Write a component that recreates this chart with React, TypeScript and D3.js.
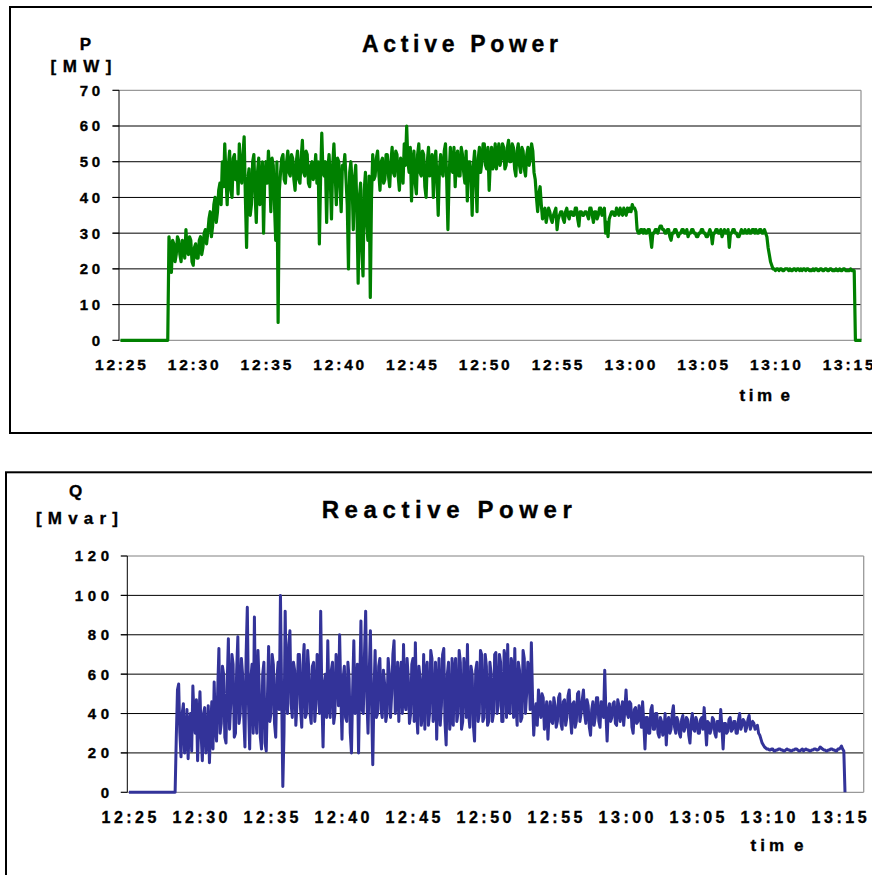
import React from "react";
import * as d3 from "d3";

// ---------- data ----------
const X_TICK_LABELS = ["12:25", "12:30", "12:35", "12:40", "12:45", "12:50", "12:55", "13:00", "13:05", "13:10", "13:15"];
const SAMPLE_START = "12:25:00";
const SAMPLE_STEP_SECONDS = 5;

// Active power P [MW], one value every 5 s from 12:25:00 (one row = one minute)
const P_VALUES = [
  0, 0, 0, 0, 0, 0, 0, 0, 0, 0, 0, 0, // 12:25
  0, 0, 0, 0, 0, 0, 0, 0, 0, 0, 0, 0, // 12:26
  0, 0, 0, 0, 0, 0, 0, 0, 0, 0, 0, 0, // 12:27
  0, 0, 0, 0, 29, 25, 19, 28, 27, 22, 24, 29, // 12:28
  28, 24, 22, 28, 27, 23, 31, 25, 24, 29, 28, 22, // 12:29
  21, 26, 27, 23, 23, 28, 29, 24, 26, 30, 31, 27, // 12:30
  30, 34, 36, 29, 32, 38, 40, 33, 36, 42, 44, 38, // 12:31
  50, 43, 55, 46, 38, 49, 53, 42, 40, 51, 52, 45, // 12:32
  50, 41, 55, 47, 44, 52, 57, 40, 26, 45, 48, 35, // 12:33
  38, 50, 52, 41, 33, 47, 51, 38, 44, 50, 30, 46, // 12:34
  50, 44, 53, 47, 36, 51, 49, 38, 28, 50, 5, 42, // 12:35
  47, 51, 52, 45, 44, 50, 53, 47, 46, 52, 51, 45, // 12:36
  42, 50, 53, 45, 44, 51, 56, 47, 46, 53, 52, 44, // 12:37
  43, 49, 50, 45, 47, 52, 44, 50, 27, 45, 58, 47, // 12:38
  46, 50, 33, 48, 52, 45, 34, 49, 55, 47, 38, 51, // 12:39
  50, 43, 36, 49, 48, 52, 45, 38, 20, 47, 50, 44, // 12:40
  31, 45, 49, 36, 16, 40, 44, 25, 18, 42, 47, 33, // 12:41
  28, 46, 12, 40, 52, 45, 46, 51, 53, 47, 42, 50, // 12:42
  51, 44, 45, 52, 52, 46, 43, 50, 54, 47, 46, 53, // 12:43
  52, 46, 42, 51, 50, 44, 55, 49, 60, 50, 47, 54, // 12:44
  39, 50, 53, 44, 41, 52, 55, 47, 46, 53, 52, 43, // 12:45
  40, 50, 54, 46, 47, 52, 40, 49, 53, 45, 35, 48, // 12:46
  52, 47, 46, 53, 55, 45, 31, 46, 54, 48, 47, 54, // 12:47
  43, 51, 53, 46, 46, 54, 52, 47, 44, 53, 39, 50, // 12:48
  50, 46, 35, 49, 53, 45, 36, 51, 54, 47, 50, 55, // 12:49
  55, 49, 48, 54, 42, 50, 54, 48, 50, 55, 48, 52, // 12:50
  55, 49, 51, 55, 54, 48, 49, 54, 56, 50, 50, 55, // 12:51
  54, 48, 46, 53, 55, 49, 47, 54, 53, 48, 46, 52, // 12:52
  54, 49, 51, 55, 53, 47, 45, 40, 36, 41, 43, 38, // 12:53
  34, 36, 37, 33, 35, 37, 36, 34, 33, 35, 36, 37, // 12:54
  31, 34, 35, 36, 36, 34, 33, 36, 37, 35, 34, 36, // 12:55
  36, 35, 35, 37, 37, 34, 32, 36, 36, 35, 35, 36, // 12:56
  36, 35, 34, 37, 37, 35, 33, 36, 36, 34, 35, 37, // 12:57
  37, 35, 36, 37, 30, 33, 29, 34, 35, 36, 36, 35, // 12:58
  35, 37, 36, 35, 37, 36, 35, 37, 36, 35, 37, 36, // 12:59
  37, 36, 38, 37, 37, 36, 31, 30, 30, 31, 31, 30, // 13:00
  31, 30, 30, 31, 31, 29, 26, 30, 30, 31, 31, 30, // 13:01
  31, 32, 32, 31, 31, 30, 30, 31, 31, 29, 28, 30, // 13:02
  30, 31, 31, 30, 29, 30, 30, 31, 31, 30, 30, 31, // 13:03
  29, 30, 30, 31, 31, 30, 30, 29, 29, 30, 30, 31, // 13:04
  31, 30, 30, 29, 29, 30, 31, 30, 27, 30, 30, 31, // 13:05
  31, 30, 30, 31, 29, 30, 31, 30, 30, 31, 26, 30, // 13:06
  30, 31, 31, 30, 30, 29, 29, 30, 31, 30, 30, 31, // 13:07
  30, 30, 31, 30, 30, 31, 31, 30, 31, 30, 30, 31, // 13:08
  31, 30, 30, 31, 30, 29, 26, 24, 22, 21, 20, 20, // 13:09
  19.5, 20, 20, 19.5, 20, 20, 19.5, 19.5, 20, 20, 20, 19.5, // 13:10
  20, 19.5, 19.5, 20, 20, 19.5, 20, 20, 19.5, 20, 19.5, 20, // 13:11
  20, 19.5, 20, 20, 19.5, 19.5, 19.5, 20, 19.5, 20, 20, 19.5, // 13:12
  19.5, 20, 20, 19.5, 19.5, 20, 20, 19.5, 19.5, 20, 20, 19.5, // 13:13
  19.5, 19.5, 20, 19.5, 19.5, 20, 19.5, 19.5, 20, 20, 19.5, 19.5, // 13:14
  19.5, 19.5, 20, 19.5, 19.5, 19.5, 0, 0, 0, 0, 0, 0, // 13:15
];

// Reactive power Q [Mvar], one value every 5 s from 12:25:00 (one row = one minute)
const Q_VALUES = [
  0, 0, 0, 0, 0, 0, 0, 0, 0, 0, 0, 0, // 12:25
  0, 0, 0, 0, 0, 0, 0, 0, 0, 0, 0, 0, // 12:26
  0, 0, 0, 0, 0, 0, 0, 0, 0, 0, 0, 0, // 12:27
  0, 0, 0, 0, 28, 52, 55, 30, 18, 40, 45, 20, // 12:28
  24, 42, 17, 35, 40, 21, 54, 38, 30, 47, 16, 36, // 12:29
  51, 29, 16, 40, 43, 20, 25, 44, 15, 33, 46, 22, // 12:30
  56, 34, 26, 52, 73, 30, 35, 64, 60, 28, 25, 55, // 12:31
  78, 32, 45, 70, 65, 28, 30, 62, 79, 35, 40, 68, // 12:32
  60, 38, 23, 70, 94, 45, 22, 58, 65, 30, 89, 40, // 12:33
  30, 72, 55, 28, 22, 60, 66, 25, 21, 48, 74, 36, // 12:34
  40, 70, 65, 35, 28, 58, 66, 42, 100, 50, 3, 30, // 12:35
  92, 48, 40, 75, 82, 45, 38, 66, 62, 34, 45, 70, // 12:36
  70, 42, 33, 65, 75, 38, 40, 72, 62, 40, 35, 64, // 12:37
  66, 36, 45, 70, 60, 40, 92, 48, 23, 55, 60, 38, // 12:38
  77, 45, 38, 62, 66, 35, 40, 70, 62, 44, 80, 50, // 12:39
  27, 58, 64, 38, 36, 66, 58, 30, 20, 52, 77, 40, // 12:40
  45, 65, 20, 55, 87, 42, 40, 70, 92, 48, 30, 60, // 12:41
  82, 45, 14, 50, 72, 38, 40, 64, 68, 42, 38, 62, // 12:42
  55, 36, 40, 68, 60, 38, 50, 70, 77, 40, 45, 66, // 12:43
  36, 58, 66, 40, 75, 45, 42, 68, 58, 35, 40, 65, // 12:44
  68, 36, 76, 42, 30, 64, 58, 34, 40, 70, 32, 62, // 12:45
  66, 34, 40, 72, 68, 36, 40, 66, 27, 52, 68, 34, // 12:46
  44, 70, 73, 36, 24, 60, 66, 32, 38, 68, 34, 62, // 12:47
  68, 36, 40, 72, 66, 32, 36, 68, 60, 38, 75, 40, // 12:48
  33, 64, 60, 34, 26, 62, 66, 36, 40, 72, 70, 36, // 12:49
  38, 70, 64, 34, 36, 66, 60, 36, 40, 70, 71, 40, // 12:50
  44, 70, 66, 36, 36, 72, 68, 38, 75, 42, 40, 68, // 12:51
  64, 38, 73, 44, 34, 66, 62, 36, 38, 72, 68, 40, // 12:52
  50, 66, 62, 42, 76, 48, 29, 40, 45, 34, 52, 44, // 12:53
  38, 50, 48, 32, 40, 46, 27, 40, 46, 36, 35, 48, // 12:54
  44, 33, 36, 48, 50, 35, 32, 46, 47, 34, 38, 49, // 12:55
  52, 38, 30, 45, 46, 33, 36, 50, 51, 36, 40, 47, // 12:56
  52, 40, 35, 47, 44, 33, 29, 42, 46, 34, 38, 48, // 12:57
  48, 36, 33, 46, 44, 38, 62, 40, 26, 42, 45, 36, // 12:58
  38, 45, 46, 35, 34, 47, 44, 36, 40, 46, 34, 42, // 12:59
  52, 40, 38, 46, 45, 33, 30, 42, 43, 35, 36, 44, // 13:00
  40, 33, 46, 35, 22, 38, 38, 30, 30, 42, 44, 32, // 13:01
  32, 40, 40, 30, 28, 38, 36, 29, 31, 40, 24, 36, // 13:02
  38, 30, 32, 40, 44, 33, 30, 38, 36, 30, 28, 37, // 13:03
  39, 31, 33, 38, 37, 29, 25, 36, 40, 32, 31, 38, // 13:04
  36, 30, 30, 37, 38, 32, 43, 34, 24, 36, 35, 30, // 13:05
  32, 38, 37, 30, 28, 36, 36, 31, 42, 33, 22, 35, // 13:06
  35, 30, 31, 37, 38, 31, 32, 36, 36, 30, 30, 37, // 13:07
  40, 32, 34, 37, 36, 31, 33, 37, 39, 32, 34, 36, // 13:08
  35, 32, 33, 34, 30, 29, 27, 25, 24, 23, 22.5, 22, // 13:09
  22, 21.5, 21.5, 22, 22, 21, 21, 21.5, 21.5, 22, 22, 21.5, // 13:10
  21.5, 21, 21, 21.5, 22, 21.5, 21.5, 21, 21, 21.5, 21.5, 22, // 13:11
  22, 21.5, 21, 21, 21.5, 22, 21, 21.5, 22, 21.5, 21.5, 21, // 13:12
  21, 21.5, 21.5, 22, 22, 21.5, 21.5, 22, 23, 22.5, 22, 21.5, // 13:13
  21.5, 21, 21, 21.5, 21.5, 22, 22, 21.5, 21.5, 21, 21, 22, // 13:14
  22, 22.5, 23.5, 22, 21, 0, // 13:15
];

const P_TICKS = [0, 10, 20, 30, 40, 50, 60, 70];
const Q_TICKS = [0, 20, 40, 60, 80, 100, 120];

// ---------- helpers ----------
const parseHMS = d3.timeParse("%H:%M:%S");
const parseHM = d3.timeParse("%H:%M");
const FONT = "'Liberation Sans', Arial, Helvetica, sans-serif";
const TXT_STROKE = 0.35;

type PanelCfg = {
  frame: { x: number; y: number; w: number; h: number };
  plot: { left: number; right: number; top: number; bottom: number };
  xStart: string;
  xEnd: string;
  yMax: number;
  yTicks: number[];
  values: number[];
  color: string;
  strokeW: number;
  title: string;
  titleX: number;
  titleY: number;
  titleSize: number;
  titleLs: number;
  yName: string;
  yUnit: string;
  yNameX: number;
  yNameY: number;
  yUnitX: number;
  yUnitY: number;
  yNameSize: number;
  yUnitLs: number;
  yLabRight: number;
  yLabSize: number;
  yLabLs: number;
  xLabY: number;
  xLabSize: number;
  xLabLs: number;
  timeX: number;
  timeY: number;
  timeLs: number;
  timeGap: number;
};

function T(props: any) {
  const { ls, children, ...rest } = props;
  return (
    <text
      fontFamily={FONT}
      fontWeight="bold"
      fill="#000"
      stroke="#000"
      strokeWidth={TXT_STROKE}
      style={ls ? { letterSpacing: ls + "px" } : undefined}
      {...rest}
    >
      {children}
    </text>
  );
}

function Panel({ c }: { c: PanelCfg }) {
  const x = d3
    .scaleTime()
    .domain([parseHMS(c.xStart) as Date, parseHMS(c.xEnd) as Date])
    .range([c.plot.left, c.plot.right]);
  const y = d3.scaleLinear().domain([0, c.yMax]).range([c.plot.bottom, c.plot.top]);
  const t0 = (parseHMS(SAMPLE_START) as Date).getTime();
  const pts: [Date, number][] = c.values.map((v, i) => [new Date(t0 + i * SAMPLE_STEP_SECONDS * 1000), v]);
  const line = d3
    .line<[Date, number]>()
    .x((d) => x(d[0]))
    .y((d) => y(d[1]));
  const { left, right, top, bottom } = c.plot;

  return (
    <g>
      <rect x={c.frame.x} y={c.frame.y} width={c.frame.w} height={c.frame.h} fill="#fff" stroke="#000" strokeWidth={2} />
      {c.yTicks.map((t) => (
        <line key={"g" + t} x1={left - 6.5} x2={right} y1={y(t)} y2={y(t)} stroke={t === 0 || t === c.yMax ? "#808080" : "#000"} strokeWidth={1} />
      ))}
      <line x1={right} x2={right} y1={top} y2={bottom} stroke="#9a9a9a" strokeWidth={1.3} />
      <line x1={left} x2={left} y1={top} y2={bottom} stroke="#000" strokeWidth={1} />
      {c.yTicks.map((t) => (
        <line key={"k" + t} x1={left - 6.5} x2={left} y1={y(t)} y2={y(t)} stroke="#000" strokeWidth={1} />
      ))}
      <path d={line(pts) || ""} fill="none" stroke={c.color} strokeWidth={c.strokeW} strokeLinejoin="round" strokeLinecap="butt" />
      {c.yTicks.map((t) => (
        <T key={"l" + t} x={c.yLabRight + c.yLabLs} y={y(t)} dy="0.36em" textAnchor="end" fontSize={c.yLabSize} ls={c.yLabLs}>
          {t}
        </T>
      ))}
      {X_TICK_LABELS.map((lab) => (
        <T key={lab} x={x(parseHM(lab) as Date) + c.xLabLs / 2} y={c.xLabY} textAnchor="middle" fontSize={c.xLabSize} ls={c.xLabLs}>
          {lab}
        </T>
      ))}
      <T x={c.titleX + c.titleLs / 2} y={c.titleY} textAnchor="middle" fontSize={c.titleSize} ls={c.titleLs}>
        {c.title}
      </T>
      <T x={c.yNameX} y={c.yNameY} textAnchor="middle" fontSize={c.yNameSize}>
        {c.yName}
      </T>
      <T x={c.yUnitX + c.yUnitLs / 2} y={c.yUnitY} textAnchor="middle" fontSize={c.yNameSize} ls={c.yUnitLs}>
        {c.yUnit}
      </T>
      <T x={c.timeX} y={c.timeY} textAnchor="middle" fontSize={c.yNameSize} ls={c.timeLs}>
        tim
        <tspan dx={c.timeGap}>e</tspan>
      </T>
    </g>
  );
}

const TOP: PanelCfg = {
  frame: { x: 10, y: 7, w: 900, h: 426 },
  plot: { left: 119, right: 861, top: 90.3, bottom: 340.3 },
  xStart: "12:24:54",
  xEnd: "13:15:53",
  yMax: 70,
  yTicks: P_TICKS,
  values: P_VALUES,
  color: "#008000",
  strokeW: 3.2,
  title: "Active Power",
  titleX: 460,
  titleY: 52,
  titleSize: 23,
  titleLs: 4.7,
  yName: "P",
  yUnit: "[MW]",
  yNameX: 85.5,
  yNameY: 50,
  yUnitX: 81,
  yUnitY: 72,
  yNameSize: 17,
  yUnitLs: 6.5,
  yLabRight: 100,
  yLabSize: 15,
  yLabLs: 3.5,
  xLabY: 370,
  xLabSize: 15.5,
  xLabLs: 2.8,
  timeX: 766.5,
  timeY: 401,
  timeLs: 3.5,
  timeGap: 5,
};

const BOTTOM: PanelCfg = {
  frame: { x: 6, y: 472.3, w: 900, h: 500 },
  plot: { left: 127.3, right: 863.7, top: 556, bottom: 792.3 },
  xStart: "12:24:53",
  xEnd: "13:16:44",
  yMax: 120,
  yTicks: Q_TICKS,
  values: Q_VALUES,
  color: "#333399",
  strokeW: 3,
  title: "Reactive Power",
  titleX: 446.8,
  titleY: 518,
  titleSize: 24,
  titleLs: 5.6,
  yName: "Q",
  yUnit: "[Mvar]",
  yNameX: 75.5,
  yNameY: 497,
  yUnitX: 77,
  yUnitY: 524,
  yNameSize: 17,
  yUnitLs: 6.2,
  yLabRight: 109,
  yLabSize: 15,
  yLabLs: 4.6,
  xLabY: 822.5,
  xLabSize: 16,
  xLabLs: 3.5,
  timeX: 779,
  timeY: 851,
  timeLs: 4,
  timeGap: 6,
};

export default function App() {
  return (
    <svg
      width={872}
      height={875}
      viewBox="0 0 872 875"
      style={{ position: "absolute", left: 0, top: 0, background: "#fff", display: "block" }}
    >
      <rect x={0} y={0} width={872} height={875} fill="#fff" />
      <Panel c={TOP} />
      <Panel c={BOTTOM} />
    </svg>
  );
}
